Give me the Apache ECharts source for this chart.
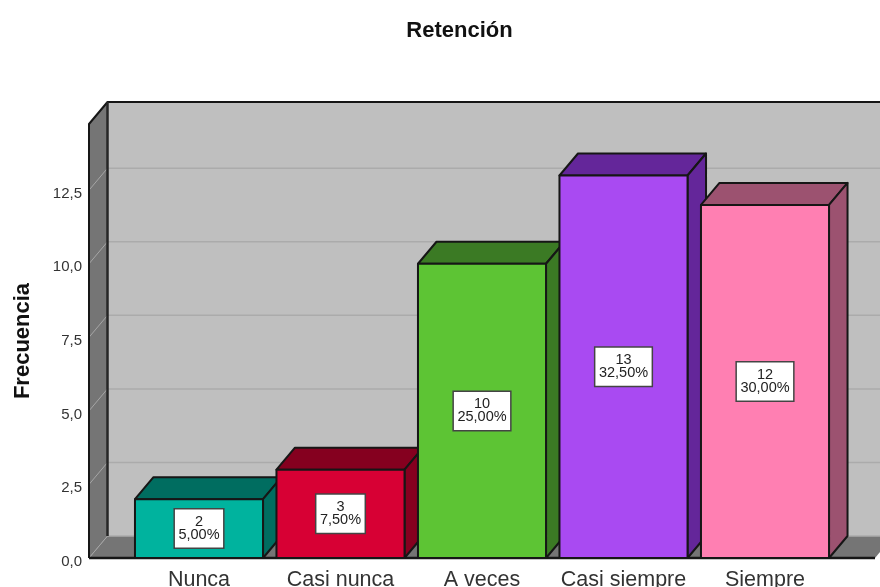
<!DOCTYPE html>
<html>
<head>
<meta charset="utf-8">
<style>html,body{margin:0;padding:0;background:#fff}#chart{width:880px;height:587px}</style>
<script src="https://cdn.jsdelivr.net/npm/echarts@6/dist/echarts.min.js"></script>
</head>
<body>
<div id="chart"></div>
<script>
// Frequency table for the "Retención" scale
const categories = ['Nunca', 'Casi nunca', 'A veces', 'Casi siempre', 'Siempre'];
const frequencies = [2, 3, 10, 13, 12];
const percents = ['5,00%', '7,50%', '25,00%', '32,50%', '30,00%'];
const yTicks = [0, 2.5, 5, 7.5, 10, 12.5];
const yMax = 14.75;

// Face colours of each box: front, top, side
const frontColors = ['#00B39E', '#D70034', '#5DC434', '#A94AF2', '#FF7FB2'];
const shadeColors = ['#006D60', '#85001F', '#3B7A24', '#64269A', '#9C5270'];

// Oblique projection and frame styling
const DX = 18.5, DY = 22;
const WALL_INSET = 39.25;
const BAR_RATIO = 0.905;
const EDGE = '#161616';

function poly(points, fill, stroke, width) {
  return {
    type: 'polygon',
    shape: { points },
    style: { fill: fill, stroke: stroke || null, lineWidth: width || 0, lineJoin: 'round' }
  };
}
function line(points, stroke, width) {
  return {
    type: 'polyline',
    shape: { points },
    style: { fill: null, stroke, lineWidth: width, lineJoin: 'round' }
  };
}

function renderWalls(params, api) {
  const cs = params.coordSys;
  const l = cs.x - WALL_INSET, r = cs.x + cs.width + WALL_INSET;
  const top = api.coord([0, yMax])[1], base = api.coord([0, 0])[1];
  return {
    type: 'group',
    children: [
      poly([[l + DX, top - DY], [r + DX, top - DY], [r + DX, base - DY], [l + DX, base - DY]], '#BFBFBF'),
      poly([[l, top], [l + DX, top - DY], [l + DX, base - DY], [l, base]], '#757575'),
      poly([[l, base], [l + DX, base - DY], [r + DX, base - DY], [r, base]], '#757575')
    ]
  };
}

function renderGrid(params, api) {
  const cs = params.coordSys;
  const l = cs.x - WALL_INSET, r = cs.x + cs.width + WALL_INSET;
  const y = api.coord([0, api.value(0)])[1];
  return {
    type: 'group',
    children: [
      line([[l, y], [l + DX, y - DY]], '#A6A6A6', 1),
      line([[l + DX, y - DY], [r + DX, y - DY]], '#ABABAB', 1.5)
    ]
  };
}

function renderFrame(params, api) {
  const cs = params.coordSys;
  const l = cs.x - WALL_INSET, r = cs.x + cs.width + WALL_INSET;
  const top = api.coord([0, yMax])[1], base = api.coord([0, 0])[1];
  return {
    type: 'group',
    children: [
      line([[l, base], [l, top], [l + DX, top - DY], [r + DX, top - DY]], EDGE, 2),
      line([[l + DX, top - DY], [l + DX, base - DY]], '#262626', 2.5),
      line([[l, base], [r, base]], EDGE, 2.5)
    ]
  };
}

function renderBox(params, api) {
  const i = params.dataIndex;
  const value = api.value(1);
  const [cx, yTop] = api.coord([api.value(0), value]);
  const yBase = api.coord([api.value(0), 0])[1];
  const half = api.size([1, 0])[0] * BAR_RATIO / 2;
  const x0 = cx - half, x1 = cx + half;
  return {
    type: 'group',
    children: [
      poly([[x0, yTop], [x0 + DX, yTop - DY], [x1 + DX, yTop - DY], [x1, yTop]], shadeColors[i], EDGE, 2),
      poly([[x1, yTop], [x1 + DX, yTop - DY], [x1 + DX, yBase - DY], [x1, yBase]], shadeColors[i], EDGE, 2),
      poly([[x0, yTop], [x1, yTop], [x1, yBase], [x0, yBase]], frontColors[i], EDGE, 2),
      {
        type: 'text',
        x: cx,
        y: (yTop + yBase) / 2,
        style: {
          text: value + '\n' + percents[i],
          font: '14.5px "Liberation Sans", Arial, sans-serif',
          lineHeight: 13,
          fill: '#222',
          align: 'center',
          verticalAlign: 'middle',
          backgroundColor: '#fff',
          borderColor: '#444',
          borderWidth: 1.5,
          padding: [6, 3.5, 6, 3.5]
        }
      }
    ]
  };
}

const chart = echarts.init(document.getElementById('chart'), null, { renderer: 'canvas' });
chart.setOption({
  animation: false,
  backgroundColor: '#fff',
  title: {
    text: 'Retención',
    left: 454.5,
    top: 15,
    textAlign: 'center',
    textStyle: { fontFamily: '"Liberation Sans", Arial, sans-serif', fontSize: 22, fontWeight: 'bold', color: '#111' }
  },
  grid: { left: 128.25, right: 44.25, top: 124, bottom: 29, outerBoundsMode: 'none' },
  xAxis: {
    type: 'category',
    data: categories,
    axisLine: { show: false },
    axisTick: { show: false },
    axisLabel: {
      margin: 11,
      interval: 0,
      color: '#333',
      fontFamily: '"Liberation Sans", Arial, sans-serif',
      fontSize: 21.5
    }
  },
  yAxis: {
    type: 'value',
    min: 0,
    max: yMax,
    interval: 2.5,
    offset: WALL_INSET,
    name: 'Frecuencia',
    nameLocation: 'middle',
    nameGap: 55,
    nameTextStyle: { fontFamily: '"Liberation Sans", Arial, sans-serif', fontSize: 22, fontWeight: 'bold', color: '#111' },
    axisLine: { show: false },
    axisTick: { show: false },
    splitLine: { show: false },
    axisLabel: {
      margin: 7,
      showMaxLabel: false,
      color: '#333',
      fontFamily: '"Liberation Sans", Arial, sans-serif',
      fontSize: 15,
      formatter: v => '{t|' + v.toFixed(1).replace('.', ',') + '}',
      rich: { t: { padding: [7, 0, 0, 0], fontSize: 15, color: '#333', fontFamily: '"Liberation Sans", Arial, sans-serif' } }
    }
  },
  series: [
    { type: 'custom', coordinateSystem: 'cartesian2d', data: [[0, 0]], renderItem: renderWalls, silent: true, z: 1 },
    { type: 'custom', coordinateSystem: 'cartesian2d', data: yTicks.map(v => [v]), encode: { y: 0 }, renderItem: renderGrid, silent: true, z: 2 },
    { type: 'custom', coordinateSystem: 'cartesian2d', data: [[0, 0]], renderItem: renderFrame, silent: true, z: 3 },
    { type: 'custom', coordinateSystem: 'cartesian2d', data: frequencies.map((v, i) => [i, v]), encode: { x: 0, y: 1 }, renderItem: renderBox, z: 4 }
  ]
});
</script>
</body>
</html>
